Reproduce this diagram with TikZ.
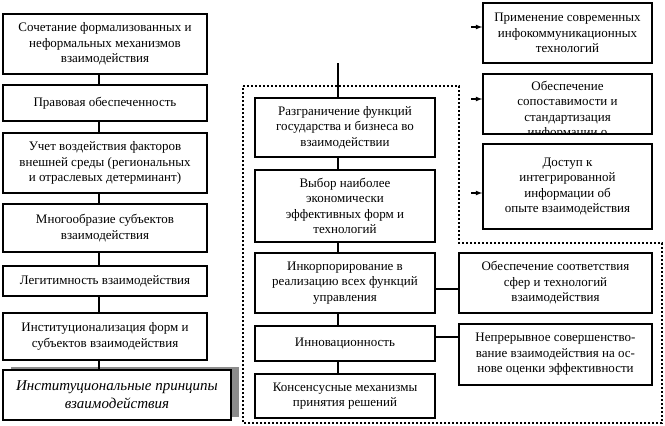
\documentclass[tikz,border=0pt]{standalone}
\usepackage{fontspec}
\setmainfont{Liberation Serif}
\usetikzlibrary{shadows}
\usetikzlibrary{arrows,shapes}
\usetikzlibrary{calc}
\tikzstyle{block}=[draw,fill=white,line width=1.6pt,align=center,inner sep=1pt,font=\fontsize{13}{15.5}\selectfont]
\tikzstyle{edge} = [draw,line width=1.6pt]
\tikzstyle{pointer} = [draw,line width=1.2pt,-latex]
\tikzstyle{frame} = [draw,line width=2pt,dash pattern=on 2pt off 2pt]

\begin{document}
\begin{tikzpicture}[x=1pt,y=-1pt]

  \useasboundingbox (0,0) rectangle (665,426);

  % dotted outline round the middle group
  \draw[frame] (243,86) -- (459,86) -- (459,243) -- (662,243) -- (662,423) -- (243,423) -- cycle;

  % left column
  \foreach \x/\y/\w/\h/\name/\label in {
      105/44/204/60/L1/{Сочетание формализованных и\\неформальных механизмов\\взаимодействия},
      105/103/204/36/L2/{Правовая обеспеченность},
      105/163/204/60/L3/{Учет воздействия факторов\\внешней среды (региональных\\и отраслевых детерминант)},
      105/228/204/48/L4/{Многообразие субъектов\\взаимодействия},
      105/281/204/30/L5/{Легитимность взаимодействия},
      105/336.5/204/47/L6/{Институционализация форм и\\субъектов взаимодействия}}
          \node[block, minimum width=\w pt, minimum height=\h pt] (\name) at (\x,\y) {\label};

  \node[block, minimum width=228pt, minimum height=50pt,
        font=\fontsize{15}{18}\selectfont\itshape,
        drop shadow={shadow xshift=8pt, shadow yshift=3pt, fill=black!45, opacity=1}]
        (L7) at (117,395) {Институциональные принципы\\взаимодействия};

  % middle column
  \foreach \x/\y/\w/\h/\name/\label in {
      345/127.5/180/59/M1/{Разграничение функций\\государства и бизнеса во\\взаимодействии},
      345/206/180/72/M2/{Выбор наиболее\\экономически\\эффективных форм и\\технологий},
      345/283/180/60/M3/{Инкорпорирование в\\реализацию всех функций\\управления},
      345/343.5/180/35/M4/{Инновационность},
      345/396/180/44/M5/{Консенсусные механизмы\\принятия решений}}
          \node[block, minimum width=\w pt, minimum height=\h pt] (\name) at (\x,\y) {\label};

  % right column
  \foreach \x/\y/\w/\h/\name/\label in {
      567.5/33/169/60/R1/{Применение современных\\инфокоммуникационных\\технологий},
      567.5/104/169/60/R2/{},
      567.5/186.5/169/85/R3/{Доступ к\\интегрированной\\информации об\\опыте взаимодействия},
      555.5/283/193/60/R4/{Обеспечение соответствия\\сфер и технологий\\взаимодействия},
      555.5/354.5/193/61/R5/{Непрерывное совершенство-\\вание взаимодействия на ос-\\нове оценки эффективности}}
          \node[block, minimum width=\w pt, minimum height=\h pt] (\name) at (\x,\y) {\label};

  \begin{scope}
    \clip (R2.south west) rectangle (R2.north east);
    \node[block, draw=none, fill=none, anchor=north] (R2text) at ([yshift=-6pt]R2.north)
        {Обеспечение\\сопоставимости и\\стандартизация\\информации о};
  \end{scope}

  % connectors
  \foreach \source/ \dest in {L1/L2, L2/L3, L3/L4, L4/L5, L5/L6}
         \path[edge] ([xshift=-6pt]\source.south) -- ([xshift=-6pt]\dest.north);
  \path[edge] ([xshift=-6pt]L6.south) -- ([xshift=-6pt]L6.south |- L7.north);

  \foreach \source/ \dest in {M1/M2, M2/M3, M3/M4, M4/M5}
         \path[edge] ([xshift=-7pt]\source.south) -- ([xshift=-7pt]\dest.north);

  \coordinate (mtop) at (338,63);
  \path[edge] (mtop) -- (mtop |- M1.north);

  \path[edge] ([yshift=-6pt]M3.east) -- ([yshift=-6pt]M3.east -| R4.west);
  \path[edge] ([yshift=6.5pt]M4.east) -- ([yshift=6.5pt]M4.east -| R5.west);

  \foreach \name/\y in {R1/27, R2/99, R3/193}
  {
    \coordinate (in\name) at (471,\y);
    \path[pointer] (in\name) -- (in\name -| \name.west);
  }

\end{tikzpicture}
\end{document}
